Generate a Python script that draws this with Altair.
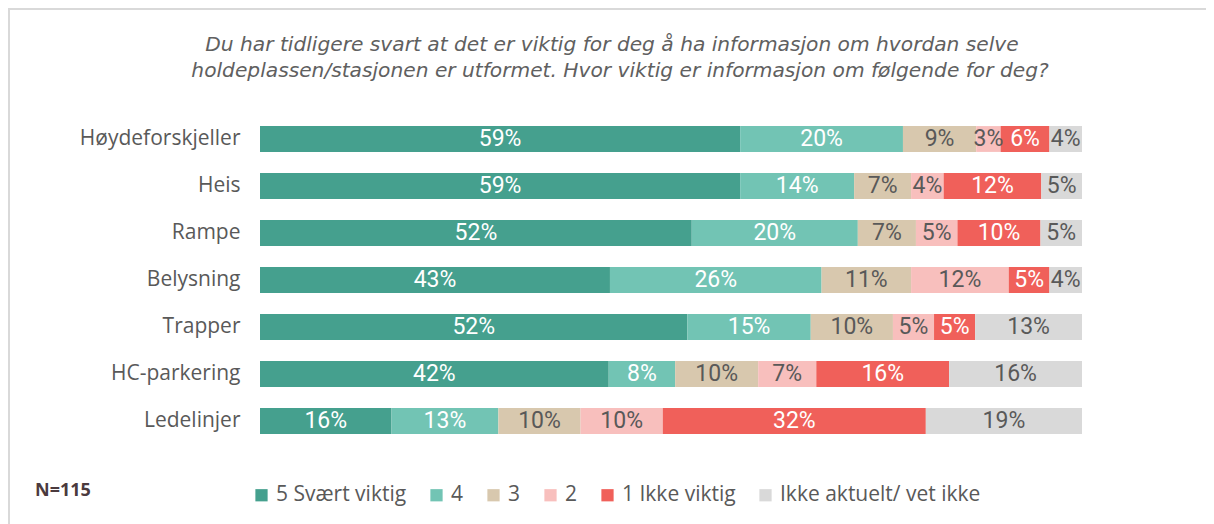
import altair as alt
import pandas as pd

categories = ["Høydeforskjeller", "Heis", "Rampe", "Belysning", "Trapper", "HC-parkering", "Ledelinjer"]
series = ["5 Svært viktig", "4", "3", "2", "1 Ikke viktig", "Ikke aktuelt/ vet ikke"]
colors = ["#45A08E", "#72C4B4", "#D8C8AE", "#F8BFBD", "#F0605A", "#D9D9D9"]
dark_text = [False, False, True, True, False, True]

v_svaert = [59, 59, 52, 43, 52, 42, 16]
v_4 = [20, 14, 20, 26, 15, 8, 13]
v_3 = [9, 7, 7, 11, 10, 10, 10]
v_2 = [3, 4, 5, 12, 5, 7, 10]
v_1 = [6, 12, 10, 5, 5, 16, 32]
v_na = [4, 5, 5, 4, 13, 16, 19]

title_lines = [
    "Du har tidligere svart at det er viktig for deg å ha informasjon om hvordan selve",
    "holdeplassen/stasjonen er utformet. Hvor viktig er informasjon om følgende for deg?",
]
n_text = "N=115"

all_vals = [v_svaert, v_4, v_3, v_2, v_1, v_na]
rows = []
for ci, cat in enumerate(categories):
    for si, s in enumerate(series):
        rows.append({"cat": cat, "series": s, "order": si, "value": all_vals[si][ci],
                     "label": f"{all_vals[si][ci]}%", "dark": 1 if dark_text[si] else 0})
df = pd.DataFrame(rows)

FONT = "'Open Sans', Lato, sans-serif"
TFONT = "'DejaVu Sans', 'Open Sans', sans-serif"
NARROW = "'Liberation Sans Narrow', Roboto, sans-serif"

base = alt.Chart(df).transform_stack(
    stack="value", groupby=["cat"], as_=["v0", "v1"], offset="normalize",
    sort=[alt.SortField("order", order="ascending")]
).transform_calculate(mid="(datum.v0 + datum.v1) / 2")

yenc = alt.Y("cat:N", sort=categories, title=None,
             scale=alt.Scale(paddingInner=0.45, paddingOuter=0.225),
             axis=alt.Axis(labelFont=FONT, labelFontSize=21, labelColor="#595959",
                           labelPadding=20, ticks=False, domain=False, labelLimit=0))

bars = base.mark_bar().encode(
    x=alt.X("v0:Q", axis=None, scale=alt.Scale(domain=[0, 1])),
    x2="v1:Q",
    y=yenc,
    color=alt.Color("series:N", sort=series,
                    scale=alt.Scale(domain=series, range=colors),
                    legend=alt.Legend(title=None, orient="none", direction="horizontal",
                                      columns=6, legendX=-9, legendY=369,
                                      symbolType="square", symbolSize=150,
                                      symbolStrokeWidth=0, labelLimit=0,
                                      labelFont=FONT, labelFontSize=21, labelColor="#595959",
                                      labelOffset=4, columnPadding=19)),
)

text_light = base.transform_filter("datum.dark == 0").mark_text(
    font=NARROW, fontSize=23, color="white"
).encode(x="mid:Q", y=alt.Y("cat:N", sort=categories), text="label:N")

text_dark = base.transform_filter("datum.dark == 1").mark_text(
    font=NARROW, fontSize=23, color="#595959"
).encode(x="mid:Q", y=alt.Y("cat:N", sort=categories), text="label:N")

ndf = pd.DataFrame({"t": [n_text]})
ntext = alt.Chart(ndf).mark_text(
    font=FONT, fontSize=18, fontWeight="bold", color="#4B3A3E", align="left", baseline="middle"
).encode(x=alt.value(-225), y=alt.value(375), text="t:N")

tdf = pd.DataFrame({"t": title_lines, "i": [0, 1]})
title1 = alt.Chart(tdf).transform_filter("datum.i == 0").mark_text(
    font=TFONT, fontSize=20.2, fontStyle="italic", color="#606060", align="center", baseline="middle"
).encode(x=alt.value(352), y=alt.value(-70.5), text="t:N")
title2 = alt.Chart(tdf).transform_filter("datum.i == 1").mark_text(
    font=TFONT, fontSize=20.2, fontStyle="italic", color="#606060", align="center", baseline="middle"
).encode(x=alt.value(360), y=alt.value(-44.5), text="t:N")

frame_top = alt.Chart(ndf).mark_rule(color="#D9D9D9", strokeWidth=2).encode(
    x=alt.value(-252), x2=alt.value(960), y=alt.value(-106.5))
frame_left = alt.Chart(ndf).mark_rule(color="#D9D9D9", strokeWidth=2).encode(
    x=alt.value(-251), y=alt.value(-107), y2=alt.value(420))

chart = alt.layer(frame_top, frame_left, bars, text_light, text_dark, ntext, title1, title2).properties(
    width=822, height=329,
    autosize=alt.AutoSizeParams(type="none"),
    padding={"left": 252, "top": 107.5, "right": 124, "bottom": 80},
).configure_view(stroke=None)

chart.save("out.html", embed_options={"renderer": "svg", "actions": False})
